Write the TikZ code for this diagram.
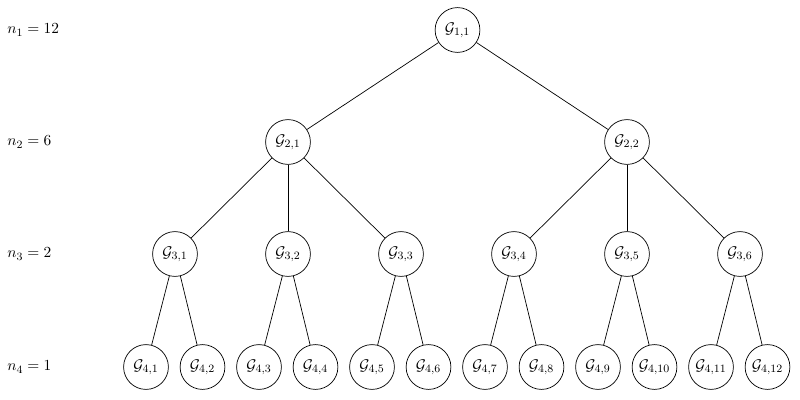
\documentclass[tikz,border=0pt]{standalone}
\begin{document}
\begin{tikzpicture}[x=0.025cm,y=-0.025cm,
  gnode/.style={circle,draw,line width=0.5pt,minimum size=1.12cm,inner sep=0pt,font=\fontsize{11}{13}\selectfont},
  lvl/.style={anchor=west,inner sep=0pt,font=\fontsize{11}{13}\selectfont},
  edge/.style={line width=0.5pt}]
\useasboundingbox (0,0) rectangle (800,400);
\node[lvl] (l1) at (7,30) {$n_1 = 12$};
\node[lvl] (l2) at (7,142) {$n_2 = 6$};
\node[lvl] (l3) at (7,254) {$n_3 = 2$};
\node[lvl] (l4) at (7,367) {$n_4 = 1$};
\node[gnode] (g11) at (457.5,30) {$\mathcal{G}_{1,1}$};
\node[gnode] (g21) at (288,142) {$\mathcal{G}_{2,1}$};
\node[gnode] (g22) at (627,142) {$\mathcal{G}_{2,2}$};
\node[gnode] (g31) at (175,254) {$\mathcal{G}_{3,1}$};
\node[gnode] (g32) at (288,254) {$\mathcal{G}_{3,2}$};
\node[gnode] (g33) at (401,254) {$\mathcal{G}_{3,3}$};
\node[gnode] (g34) at (514,254) {$\mathcal{G}_{3,4}$};
\node[gnode] (g35) at (627,254) {$\mathcal{G}_{3,5}$};
\node[gnode] (g36) at (740,254) {$\mathcal{G}_{3,6}$};
\node[gnode] (g41) at (146,367) {$\mathcal{G}_{4,1}$};
\node[gnode] (g42) at (202.5,367) {$\mathcal{G}_{4,2}$};
\node[gnode] (g43) at (259,367) {$\mathcal{G}_{4,3}$};
\node[gnode] (g44) at (315.5,367) {$\mathcal{G}_{4,4}$};
\node[gnode] (g45) at (372,367) {$\mathcal{G}_{4,5}$};
\node[gnode] (g46) at (428.5,367) {$\mathcal{G}_{4,6}$};
\node[gnode] (g47) at (485,367) {$\mathcal{G}_{4,7}$};
\node[gnode] (g48) at (541.5,367) {$\mathcal{G}_{4,8}$};
\node[gnode] (g49) at (598,367) {$\mathcal{G}_{4,9}$};
\node[gnode] (g410) at (654.5,367) {$\mathcal{G}_{4,10}$};
\node[gnode] (g411) at (711,367) {$\mathcal{G}_{4,11}$};
\node[gnode] (g412) at (767.5,367) {$\mathcal{G}_{4,12}$};
\draw[edge] (g11) -- (g21);
\draw[edge] (g11) -- (g22);
\draw[edge] (g21) -- (g31);
\draw[edge] (g21) -- (g32);
\draw[edge] (g21) -- (g33);
\draw[edge] (g22) -- (g34);
\draw[edge] (g22) -- (g35);
\draw[edge] (g22) -- (g36);
\draw[edge] (g31) -- (g41);
\draw[edge] (g31) -- (g42);
\draw[edge] (g32) -- (g43);
\draw[edge] (g32) -- (g44);
\draw[edge] (g33) -- (g45);
\draw[edge] (g33) -- (g46);
\draw[edge] (g34) -- (g47);
\draw[edge] (g34) -- (g48);
\draw[edge] (g35) -- (g49);
\draw[edge] (g35) -- (g410);
\draw[edge] (g36) -- (g411);
\draw[edge] (g36) -- (g412);
\end{tikzpicture}
\end{document}
